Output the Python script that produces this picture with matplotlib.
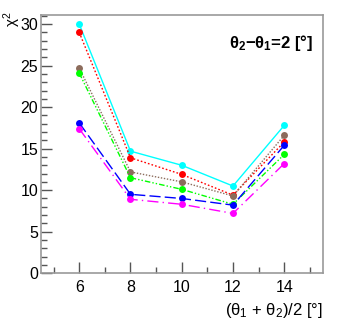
import numpy as np
import matplotlib
matplotlib.use("Agg")
import matplotlib.pyplot as plt
from matplotlib.ticker import MultipleLocator

plt.rcParams['font.family'] = ['Liberation Sans', 'DejaVu Sans']
plt.rcParams['mathtext.fontset'] = 'custom'
plt.rcParams['mathtext.rm'] = 'Liberation Sans'
plt.rcParams['mathtext.default'] = 'regular'

angulo = [6, 8, 10, 12, 14]
chi_cian = [30.0, 14.7, 13.0, 10.5, 17.8]
chi_rojo = [29.0, 13.9, 11.9, 9.4, 15.8]
chi_marron = [24.7, 12.2, 11.0, 9.3, 16.6]
chi_verde = [24.1, 11.5, 10.1, 8.3, 14.3]
chi_azul = [18.1, 9.5, 9.0, 8.2, 15.4]
chi_magenta = [17.4, 8.9, 8.3, 7.2, 13.2]

series = [
    (chi_cian, "#00ffff", "-"),
    (chi_rojo, "#ff0000", (0, (1.2, 1.5))),
    (chi_marron, "#8c6c5c", (0, (1, 1.2))),
    (chi_verde, "#00ff00", (0, (4, 1.5, 1, 1.5, 1, 1.5))),
    (chi_azul, "#0000ff", (0, (8, 3))),
    (chi_magenta, "#ff00ff", (0, (8, 3, 1, 3))),
]

fig = plt.figure(figsize=(3.4, 3.26), dpi=100)
ax = fig.add_axes([0.12, 0.162, 0.829, 0.792])

for y, c, ls in series:
    ax.plot(angulo, y, color=c, linestyle=ls, linewidth=1.0,
            marker="o", markersize=5, markeredgewidth=0)

ax.set_xlim(4.5, 15.5)
ax.set_ylim(0, 31.1)
ax.xaxis.set_major_locator(MultipleLocator(2))
ax.xaxis.set_minor_locator(MultipleLocator(1))
ax.yaxis.set_major_locator(MultipleLocator(5))
ax.yaxis.set_minor_locator(MultipleLocator(1))
ax.tick_params(which="both", direction="in", color="#555555", labelsize=11.5)
ax.tick_params(which="major", length=8, width=1)
ax.tick_params(which="minor", length=4, width=1)
ax.tick_params(axis="x", pad=5)
ax.tick_params(axis="y", pad=2)
for s in ax.spines.values():
    s.set_color("#999999")
    s.set_linewidth(1.2)

fig.text(313/340, 1 - 43/326, r"$\theta_2$$-$$\theta_1$=2 [°]", fontweight="bold",
         ha="right", va="center", fontsize=12)
fig.text(1/340, 1 - 12/326, r"$\chi^2$", rotation=90, ha="left", va="top", fontsize=11)
fig.text(323/340, 1 - 310/326, r"($\theta_1$ + $\theta_2$)/2 [°]", ha="right",
         va="center", fontsize=12)

fig.savefig("out.png", dpi=100)
